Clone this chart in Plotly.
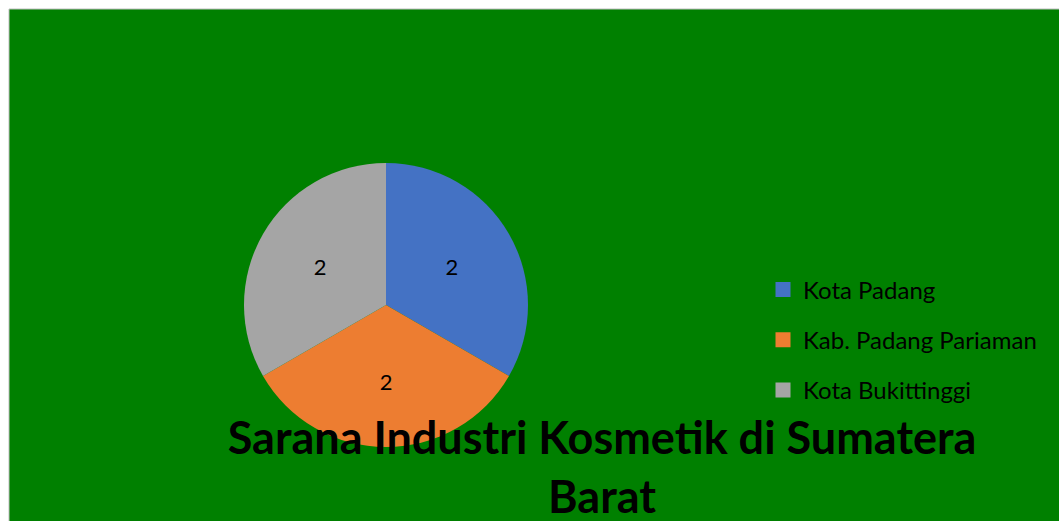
import plotly.graph_objects as go

# Data
categories = ["Kota Padang", "Kab. Padang Pariaman", "Kota Bukittinggi"]
values = [2, 2, 2]
colors = ["#4472C4", "#ED7D31", "#A5A5A5"]
title_text = "Sarana Industri Kosmetik di Sumatera<br>Barat"

W, H = 1059, 521

fig = go.Figure()
fig.add_trace(go.Pie(
    labels=categories,
    values=values,
    marker=dict(colors=colors, line=dict(width=0)),
    sort=False,
    direction="clockwise",
    rotation=0,
    textinfo="value",
    textposition="inside",
    insidetextorientation="horizontal",
    textfont=dict(family="Lato", size=22, color="black"),
    domain=dict(x=[(386 - 142) / W, (386 + 142) / W], y=[(521 - 447) / H, (521 - 163) / H]),
    hoverinfo="label+value",
    showlegend=False,
))

# legend entries (one group per category so the spacing can be set)
for cat, col in zip(categories, colors):
    fig.add_trace(go.Scatter(
        x=[None], y=[None], mode="markers", name=cat,
        legendgroup=cat,
        marker=dict(symbol="square", size=15, color=col),
        hoverinfo="skip",
    ))

fig.update_layout(
    width=W, height=H,
    margin=dict(l=0, r=0, t=0, b=0),
    paper_bgcolor="white",
    plot_bgcolor="rgba(0,0,0,0)",
    xaxis=dict(visible=False),
    yaxis=dict(visible=False),
    showlegend=True,
    legend=dict(
        x=763 / W, y=(521 - 340) / H, xanchor="left", yanchor="middle",
        bgcolor="rgba(0,0,0,0)",
        font=dict(family="Lato", size=24, color="black"),
        itemsizing="trace",
        traceorder="grouped",
        tracegroupgap=16,
    ),
    title=dict(
        text=title_text,
        x=602 / W, xanchor="center",
        y=(521 - 454) / H, yanchor="top", yref="container",
        font=dict(family="Lato", size=45, color="black", weight="bold"),
    ),
    shapes=[dict(
        type="rect", xref="paper", yref="paper",
        x0=9 / W, x1=1.01, y0=-0.01, y1=1 - 9 / H,
        fillcolor="#008000", line=dict(color="#BFBFBF", width=1),
        layer="below",
    )],
)

fig.write_html("out.html", config={"displayModeBar": False},
               post_script="document.body.style.margin='0px';")
